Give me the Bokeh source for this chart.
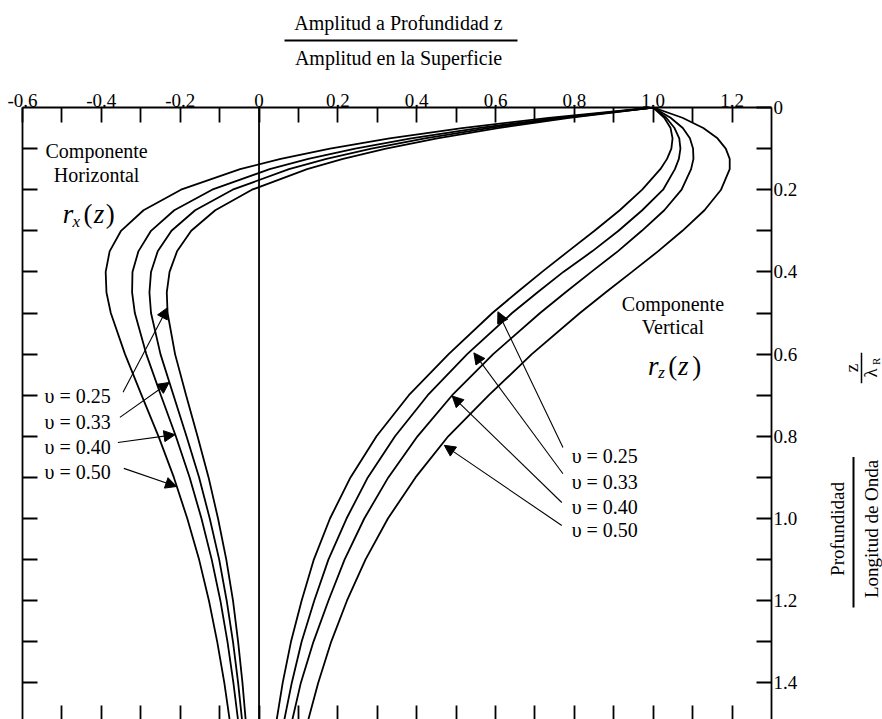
from bokeh.plotting import figure
from bokeh.layouts import column, row
from bokeh.models import (Range1d, LinearAxis, FixedTicker, CustomJSTickFormatter,
                          Span, Label, Arrow, NormalHead)
from bokeh.core.properties import value
from bokeh.embed import file_html
from bokeh.resources import INLINE

# ---------------- data ----------------
depth = [0.0, 0.025, 0.05, 0.075, 0.1, 0.125, 0.15, 0.2, 0.25, 0.3, 0.35, 0.4, 0.45,
         0.5, 0.6, 0.7, 0.8, 0.9, 1.0, 1.1, 1.2, 1.3, 1.4, 1.5]

# horizontal component r_x(z)
h_nu025 = [1.0, 0.787, 0.606, 0.452, 0.322, 0.213, 0.122, -0.018, -0.111, -0.172, -0.208,
           -0.227, -0.234, -0.232, -0.213, -0.185, -0.156, -0.128, -0.104, -0.083, -0.066,
           -0.053, -0.042, -0.033]
h_nu033 = [1.0, 0.774, 0.582, 0.421, 0.285, 0.171, 0.076, -0.067, -0.162, -0.222, -0.257,
           -0.274, -0.278, -0.274, -0.250, -0.217, -0.184, -0.152, -0.125, -0.101, -0.082,
           -0.066, -0.053, -0.042]
h_nu040 = [1.0, 0.759, 0.556, 0.386, 0.244, 0.125, 0.027, -0.119, -0.215, -0.274, -0.306,
           -0.321, -0.322, -0.315, -0.286, -0.249, -0.211, -0.176, -0.146, -0.120, -0.098,
           -0.080, -0.065, -0.052]
h_nu050 = [1.0, 0.735, 0.515, 0.331, 0.180, 0.055, -0.048, -0.198, -0.293, -0.350, -0.379,
           -0.389, -0.387, -0.376, -0.340, -0.298, -0.255, -0.216, -0.182, -0.152, -0.127,
           -0.106, -0.088, -0.073]

# vertical component r_z(z)
v_nu025 = [1.0, 1.028, 1.044, 1.049, 1.046, 1.035, 1.018, 0.972, 0.915, 0.851, 0.784,
           0.718, 0.654, 0.592, 0.481, 0.380, 0.298, 0.232, 0.180, 0.139, 0.108, 0.081,
           0.060, 0.043]
v_nu033 = [1.0, 1.033, 1.054, 1.066, 1.069, 1.065, 1.055, 1.025, 0.972, 0.912, 0.845,
           0.772, 0.706, 0.642, 0.528, 0.428, 0.345, 0.276, 0.222, 0.176, 0.140, 0.108,
           0.083, 0.062]
v_nu040 = [1.0, 1.044, 1.075, 1.093, 1.101, 1.102, 1.096, 1.072, 1.028, 0.971, 0.910,
           0.843, 0.777, 0.713, 0.594, 0.490, 0.402, 0.328, 0.267, 0.217, 0.176, 0.138,
           0.106, 0.082]
v_nu050 = [1.0, 1.074, 1.127, 1.163, 1.184, 1.194, 1.194, 1.172, 1.130, 1.074, 1.012,
           0.946, 0.879, 0.814, 0.692, 0.583, 0.480, 0.397, 0.327, 0.270, 0.223, 0.183,
           0.150, 0.122]

nu_labels = ["\u03c5 = 0.25", "\u03c5 = 0.33", "\u03c5 = 0.40", "\u03c5 = 0.50"]

x_major = [-0.6, -0.4, -0.2, 0.0, 0.2, 0.4, 0.6, 0.8, 1.0, 1.2]
x_minor = [-0.5, -0.3, -0.1, 0.1, 0.3, 0.5, 0.7, 0.9, 1.1]
x_bottom = [-0.5, -0.4, -0.3, -0.2, -0.1, 0.0, 0.1, 0.2, 0.3, 0.4, 0.5, 0.6, 0.7, 0.8,
            0.9, 1.0, 1.1, 1.2]
y_major = [0.0, 0.2, 0.4, 0.6, 0.8, 1.0, 1.2, 1.4]
y_minor = [0.1, 0.3, 0.5, 0.7, 0.9, 1.1, 1.3]
y_left = [0.1, 0.2, 0.3, 0.4, 0.5, 0.6, 0.7, 0.8, 0.9, 1.0, 1.1, 1.2, 1.3, 1.4]

title_top = "Amplitud a Profundidad z"
title_bottom = "Amplitud en la Superficie"
ylab_top = "Profundidad"
ylab_bottom = "Longitud de Onda"

# ---------------- styling ----------------
FONT = "Liberation Serif"
LW = 1.8
TITLE_H = 80
MAIN_W = 810
SIDE_W = 882 - MAIN_W
MAIN_H = 719 - TITLE_H


def bare(width, height, xr, yr):
    f = figure(width=width, height=height, x_range=xr, y_range=yr,
               x_axis_location=None, y_axis_location=None,
               output_backend="svg", toolbar_location=None, min_border=0)
    f.outline_line_color = None
    f.grid.visible = False
    f.background_fill_color = "white"
    f.border_fill_color = "white"
    return f


# ---------------- title (fraction) ----------------
t = bare(882, TITLE_H, Range1d(0, 882), Range1d(TITLE_H, 0))
t.text(x=[398, 398], y=[22, 57], text=[title_top, title_bottom],
       text_font=value(FONT), text_font_size="20px", text_align="center",
       text_baseline="middle", text_color="black")
t.line(x=[284, 517], y=[40, 40], line_color="black", line_width=2)

# ---------------- side (rotated depth label) ----------------
s = bare(SIDE_W, MAIN_H, Range1d(MAIN_W, 882), Range1d(719, TITLE_H))
ROT = 1.5707963
s.text(x=[837, 871], y=[520, 520], text=[ylab_top, ylab_bottom], angle=ROT,
       text_font=value(FONT), text_font_size="19px", text_align="center",
       text_baseline="middle", text_color="black")
s.line(x=[853, 853], y=[445, 602], line_color="black", line_width=2)
s.text(x=[851], y=[352], text=["z"], angle=ROT, text_font=value(FONT),
       text_font_size="19px", text_align="center", text_baseline="middle", text_color="black")
s.line(x=[861, 861], y=[336, 368], line_color="black", line_width=1.5)
s.text(x=[870], y=[357], text=["\u03bb"], angle=ROT, text_font=value(FONT),
       text_font_size="19px", text_align="center", text_baseline="middle", text_color="black")
s.text(x=[875], y=[345], text=["R"], angle=ROT, text_font=value(FONT),
       text_font_size="11px", text_align="center", text_baseline="middle", text_color="black")

# ---------------- main chart ----------------
p = figure(width=MAIN_W, height=MAIN_H,
           x_range=Range1d(-0.6, 1.3), y_range=Range1d(1.489, 0.0),
           x_axis_location="above", y_axis_location="right",
           output_backend="svg", toolbar_location=None,
           min_border_left=22, min_border_right=MAIN_W - 771, min_border_top=107 - TITLE_H,
           min_border_bottom=0)
p.outline_line_color = None
p.xgrid.visible = False
p.ygrid.visible = False
p.background_fill_color = "white"
p.border_fill_color = "white"

fmt = CustomJSTickFormatter(code="return Math.abs(tick) < 1e-9 ? '0' : tick.toFixed(1);")
blank = CustomJSTickFormatter(code="return '';")


def style_axis(ax, tick_len=15):
    ax.axis_line_color = "black"
    ax.axis_line_width = LW
    ax.major_tick_line_color = "black"
    ax.minor_tick_line_color = "black"
    ax.major_tick_line_width = LW
    ax.minor_tick_line_width = LW
    ax.major_tick_in = tick_len
    ax.major_tick_out = 0
    ax.minor_tick_in = tick_len
    ax.minor_tick_out = 0
    ax.major_label_text_font = FONT
    ax.major_label_text_color = "black"


top = p.xaxis[0]
top.ticker = FixedTicker(ticks=x_major, minor_ticks=x_minor)
top.formatter = fmt
style_axis(top)
top.major_label_text_font_size = "19px"
top.major_label_standoff = 1

right = p.yaxis[0]
right.ticker = FixedTicker(ticks=y_major, minor_ticks=y_minor)
right.formatter = fmt
style_axis(right)
right.major_label_text_font_size = "19px"
right.major_label_standoff = 2

left = LinearAxis(ticker=FixedTicker(ticks=y_left), formatter=blank)
style_axis(left)
left.major_label_text_font_size = "0px"
left.major_label_standoff = 0
p.add_layout(left, "left")

bottom = LinearAxis(ticker=FixedTicker(ticks=x_bottom), formatter=blank)
style_axis(bottom, 14)
bottom.axis_line_color = None
bottom.major_label_text_font_size = "0px"
bottom.major_label_standoff = 0
p.add_layout(bottom, "below")

p.add_layout(Span(location=0, dimension="height", line_color="black", line_width=LW))

for series in (h_nu025, h_nu033, h_nu040, h_nu050, v_nu025, v_nu033, v_nu040, v_nu050):
    p.line(x=series, y=depth, line_color="black", line_width=LW)


def label(x, y, text, size="20px", align="center", baseline="middle", style="normal"):
    p.add_layout(Label(x=x, y=y, text=text, text_font=FONT, text_font_size=size,
                       text_align=align, text_baseline=baseline, text_font_style=style,
                       text_color="black"))


def pointer(x0, y0, x1, y1):
    p.add_layout(Arrow(end=NormalHead(size=11, fill_color="black", line_color="black",
                                      line_width=1),
                       x_start=x0, y_start=y0, x_end=x1, y_end=y1,
                       line_color="black", line_width=1.1))


# horizontal component annotation
label(-0.412, 0.107, "Componente")
label(-0.412, 0.165, "Horizontal")
label(-0.498, 0.258, "r", size="27px", align="left", baseline="alphabetic", style="italic")
label(-0.473, 0.277, "x", size="17px", align="left", baseline="alphabetic", style="italic")
label(-0.445, 0.258, "(", size="27px", align="left", baseline="alphabetic")
label(-0.419, 0.258, "z", size="27px", align="left", baseline="alphabetic", style="italic")
label(-0.389, 0.258, ")", size="27px", align="left", baseline="alphabetic")

# vertical component annotation
label(1.05, 0.477, "Componente")
label(1.05, 0.533, "Vertical")
label(0.987, 0.628, "r", size="27px", align="left", baseline="alphabetic", style="italic")
label(1.0125, 0.645, "z", size="17px", align="left", baseline="alphabetic", style="italic")
label(1.038, 0.628, "(", size="27px", align="left", baseline="alphabetic")
label(1.063, 0.628, "z", size="27px", align="left", baseline="alphabetic", style="italic")
label(1.099, 0.628, ")", size="27px", align="left", baseline="alphabetic")

# Poisson ratio labels and pointers - horizontal component
left_lab_y = [0.703, 0.764, 0.825, 0.886]
left_tail = [(-0.345, 0.693), (-0.353, 0.754), (-0.358, 0.815), (-0.343, 0.878)]
left_tip = [(-0.232, 0.487), (-0.228, 0.669), (-0.213, 0.796), (-0.209, 0.922)]
for txt, ly, (tx, ty), (hx, hy) in zip(nu_labels, left_lab_y, left_tail, left_tip):
    label(-0.544, ly, txt, align="left")
    pointer(tx, ty, hx, hy)

# Poisson ratio labels and pointers - vertical component
right_lab_y = [0.849, 0.910, 0.971, 1.029]
right_tail = [(0.771, 0.827), (0.771, 0.891), (0.768, 0.961), (0.768, 1.017)]
right_tip = [(0.606, 0.497), (0.545, 0.597), (0.490, 0.702), (0.470, 0.822)]
for txt, ly, (tx, ty), (hx, hy) in zip(nu_labels, right_lab_y, right_tail, right_tip):
    label(0.793, ly, txt, align="left")
    pointer(tx, ty, hx, hy)

layout = column(t, row(p, s))
open("out.html", "w").write(file_html(layout, INLINE))
